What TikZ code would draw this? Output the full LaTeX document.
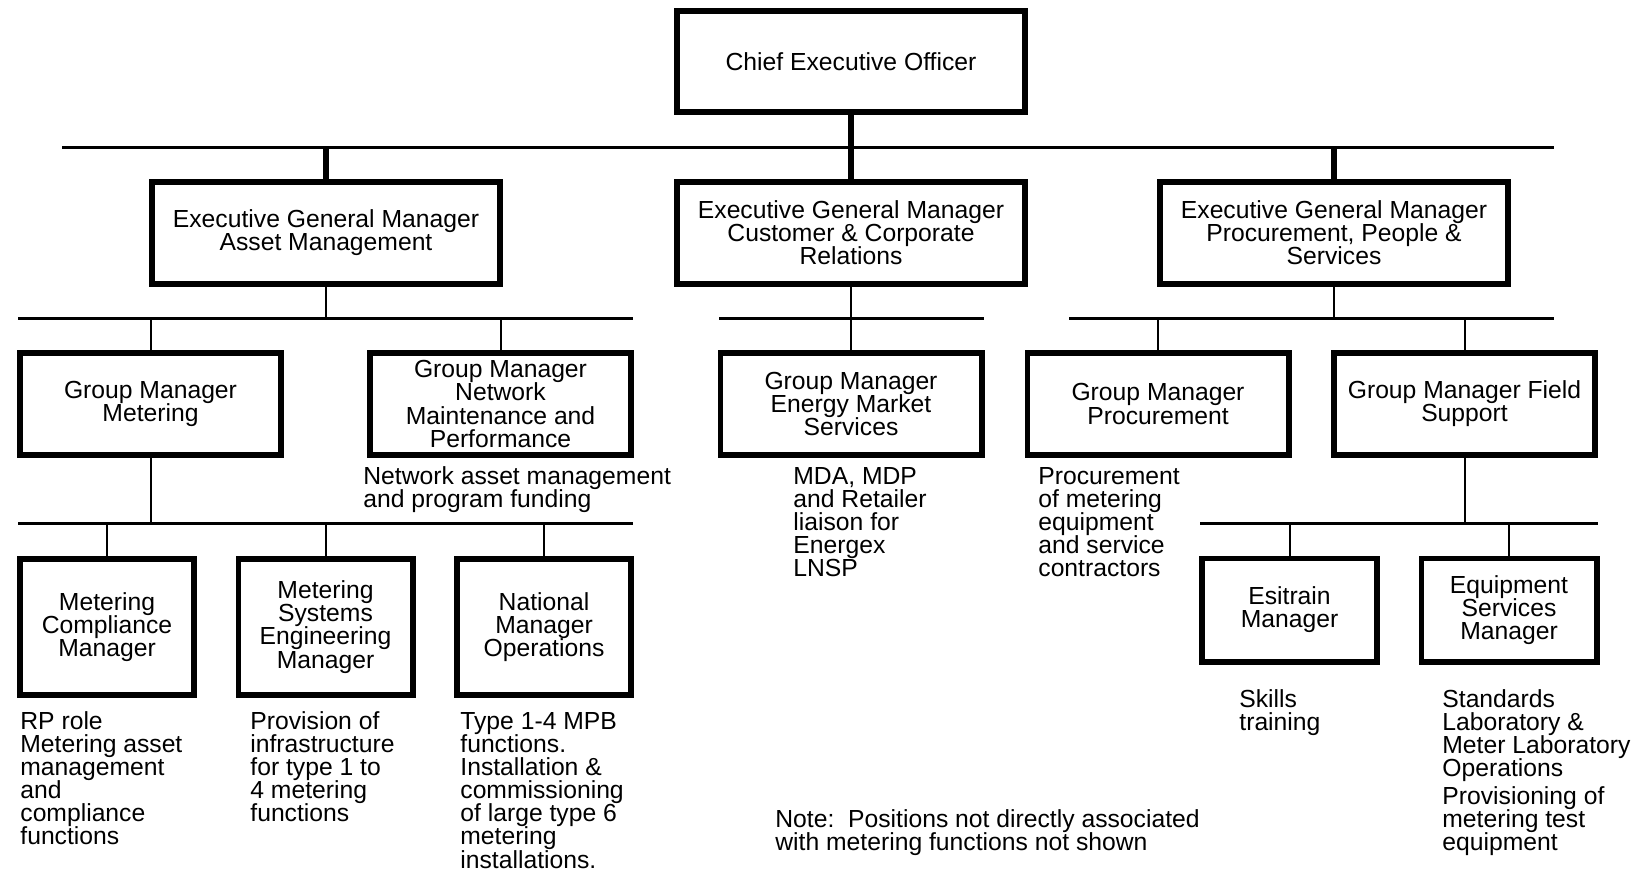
\documentclass[tikz,border=0pt]{standalone}
\usepackage{fontspec}
\setmainfont{Liberation Sans}
\newcommand\fl{\rule{0pt}{9.3pt}}
\begin{document}
\begin{tikzpicture}[x=0.5pt,y=-0.5pt,
  every node/.style={font=\fontsize{12.35pt}{11.55pt}\selectfont},
  box/.style={draw, line width=2.8pt, inner sep=0pt, align=center},
  ceobox/.style={box, minimum width=174.2pt, minimum height=50.7pt},
  egmbox/.style={box, minimum width=174pt, minimum height=51.2pt},
  gmbox/.style={box, minimum width=130.7pt, minimum height=51.2pt},
  tallbox/.style={box, minimum width=87.2pt, minimum height=68.2pt},
  lowbox/.style={box, minimum width=87.7pt, minimum height=51.7pt},
  desc/.style={anchor=north west, inner sep=0pt, align=left},
  bus/.style={line width=1.5pt},
  thickstem/.style={line width=3pt},
  thinstem/.style={line width=1pt}]
\useasboundingbox (0,0) rectangle (1637,869);

% boxes
\node[ceobox] (ceo) at (851,61.5) {Chief Executive Officer};
\node[egmbox] (egmA) at (326,233) {Executive General Manager\\Asset Management};
\node[egmbox] (egmC) at (851,233) {Executive General Manager\\Customer \& Corporate\\Relations};
\node[egmbox] (egmP) at (1334,233) {Executive General Manager\\Procurement, People \&\\Services};
\node[gmbox] (gmM) at (150.5,404) {Group Manager\\Metering};
\node[gmbox] (gmN) at (500.5,404) {Group Manager\\Network\\Maintenance and\\Performance};
\node[gmbox] (gmE) at (851,404) {Group Manager\\Energy Market\\Services};
\node[gmbox] (gmP) at (1158,404) {Group Manager\\Procurement};
\node[gmbox] (gmF) at (1464.5,404) {Group Manager Field\\Support};
\node[tallbox] (mcm) at (107,627) {Metering\\Compliance\\Manager};
\node[tallbox] (msem) at (325.5,627) {Metering\\Systems\\Engineering\\Manager};
\node[tallbox] (nmo) at (544,627) {National\\Manager\\Operations};
\node[lowbox] (esi) at (1289.5,610) {Esitrain\\Manager};
\node[lowbox] (equ) at (1509,610) {Equipment\\Services\\Manager};

% descriptions
\node[desc] (tnet) at (363,465.4) {\fl Network asset management\\and program funding};
\node[desc] (tmda) at (793,465.4) {\fl MDA, MDP\\and Retailer\\liaison for\\Energex\\LNSP};
\node[desc] (tproc) at (1038,465.4) {\fl Procurement\\of metering\\equipment\\and service\\contractors};
\node[desc] (trp) at (20,710.4) {\fl RP role\\Metering asset\\management\\and\\compliance\\functions};
\node[desc] (tprov) at (250,710.4) {\fl Provision of\\infrastructure\\for type 1 to\\4 metering\\functions};
\node[desc] (ttype) at (460,710.4) {\fl Type 1-4 MPB\\functions.\\Installation \&\\commissioning\\of large type 6\\metering\\installations.};
\node[desc] (tskill) at (1239,688.4) {\fl Skills\\training};
\node[desc] (tstd) at (1442,688.4) {\fl Standards\\Laboratory \&\\Meter Laboratory\\Operations};
\node[desc] (tprovis) at (1442,785.4) {\fl Provisioning of\\metering test\\equipment};
\node[desc] (tnote) at (775,808.4) {\fl Note:~~Positions not directly associated\\with metering functions not shown};

% level 1 bus
\coordinate (b1a) at (62,147);
\coordinate (b1b) at (1554,147);
\draw[bus] (b1a) -- (b1b);
\draw[thickstem] (ceo.south) -- (egmC.north);
\draw[thickstem] (b1a -| egmA.north) -- (egmA.north);
\draw[thickstem] (b1a -| egmP.north) -- (egmP.north);

% level 2 buses
\coordinate (b2La) at (18,318);
\coordinate (b2Lb) at (633,318);
\coordinate (b2Ma) at (719,318);
\coordinate (b2Mb) at (984,318);
\coordinate (b2Ra) at (1069,318);
\coordinate (b2Rb) at (1554,318);
\draw[bus] (b2La) -- (b2Lb);
\draw[bus] (b2Ma) -- (b2Mb);
\draw[bus] (b2Ra) -- (b2Rb);
\draw[thinstem] (egmA.south) -- (egmA.south |- b2La);
\draw[thinstem] (b2La -| gmM.north) -- (gmM.north);
\draw[thinstem] (b2La -| gmN.north) -- (gmN.north);
\draw[thinstem] (egmC.south) -- (gmE.north);
\draw[thinstem] (egmP.south) -- (egmP.south |- b2Ra);
\draw[thinstem] (b2Ra -| gmP.north) -- (gmP.north);
\draw[thinstem] (b2Ra -| gmF.north) -- (gmF.north);

% level 3 buses
\coordinate (b3La) at (18,523);
\coordinate (b3Lb) at (633,523);
\coordinate (b3Ra) at (1200,523);
\coordinate (b3Rb) at (1598,523);
\draw[bus] (b3La) -- (b3Lb);
\draw[bus] (b3Ra) -- (b3Rb);
\draw[thinstem] (gmM.south) -- (gmM.south |- b3La);
\draw[thinstem] (b3La -| mcm.north) -- (mcm.north);
\draw[thinstem] (b3La -| msem.north) -- (msem.north);
\draw[thinstem] (b3La -| nmo.north) -- (nmo.north);
\draw[thinstem] (gmF.south) -- (gmF.south |- b3Ra);
\draw[thinstem] (b3Ra -| esi.north) -- (esi.north);
\draw[thinstem] (b3Ra -| equ.north) -- (equ.north);
\end{tikzpicture}
\end{document}
